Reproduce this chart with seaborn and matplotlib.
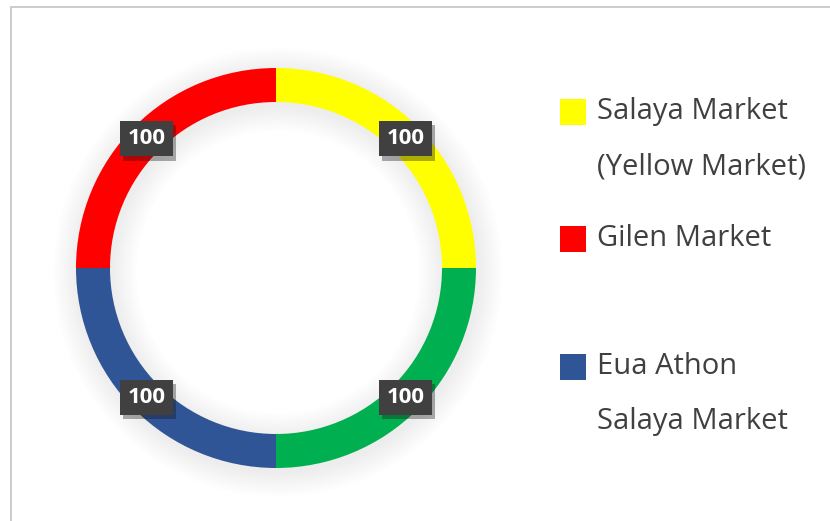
import numpy as np
import matplotlib.pyplot as plt
import seaborn as sns
from matplotlib.patches import Rectangle
from matplotlib import patheffects as pe

# data
markets = ["Salaya Market\n(Yellow Market)", "", "Eua Athon\nSalaya Market", "Gilen Market"]
values = [100, 100, 100, 100]
colors = ["#FFFF00", "#00B050", "#2F5597", "#FF0000"]
# legend order as in the chart (green series has no name)
legend_order = [0, 3, 2]

sns.set_theme(style="white")
plt.rcParams['font.family'] = ['Open Sans', 'DejaVu Sans']
plt.rcParams['hatch.color'] = '#555555'

W, H = 830, 521
fig = plt.figure(figsize=(W / 100, H / 100), dpi=100)
fig.patch.set_facecolor('white')

# outer chart frame (only top and left edge visible)
fig.patches.append(Rectangle((11 / W, -0.1), 1.2, 1.1 - 7 / H, transform=fig.transFigure,
                             fill=False, ec='#c4c4c4', lw=1.2))

cx, cy, size = 276, 268, 420
ax = fig.add_axes([(cx - size / 2) / W, (H - cy - size / 2) / H, size / W, size / H])

ring = 0.17

# soft shadow around the ring
for i in range(18):
    d = 0.007 * (i + 1)
    ax.pie([1], radius=1 + d, colors=['#000000'], center=(0.01, -0.02),
           wedgeprops=dict(width=ring + 2 * d, alpha=0.0055, linewidth=0))

wedges, _ = ax.pie(values, radius=1, colors=colors, startangle=90, counterclock=False,
                   wedgeprops=dict(width=ring, linewidth=0))

ax.set_xlim(-1.05, 1.05)
ax.set_ylim(-1.05, 1.05)
ax.set_aspect('equal')
ax.axis('off')

# value labels at the middle of each segment
for w, v in zip(wedges, values):
    ang = np.deg2rad((w.theta1 + w.theta2) / 2)
    r = 1 - ring / 2
    t = ax.text(r * np.cos(ang), r * np.sin(ang), f"{v}", ha='center', va='center',
                color='white', fontsize=16, fontweight='bold', family=['Open Sans', 'DejaVu Sans'],
                bbox=dict(boxstyle='square,pad=0.33', fc='#404040', ec='none', hatch='..'))
    t.get_bbox_patch().set_path_effects([pe.withSimplePatchShadow(offset=(2, -3), alpha=0.35)])

# legend drawn by hand so the marker sits on the first line
legend_y = [112, 239, 367]
for k, y in zip(legend_order, legend_y):
    fig.patches.append(Rectangle((560 / W, 1 - (y + 13) / H), 26 / W, 26 / H,
                                 transform=fig.transFigure, fc=colors[k], ec='none'))
    lines = markets[k].split("\n")
    for j, line in enumerate(lines):
        fig.text(597 / W, 1 - (y - 1 + 56 * j) / H, line, ha='left', va='center',
                 fontsize=21, color='#404040')

fig.savefig('out.png', dpi=100, facecolor='white')
